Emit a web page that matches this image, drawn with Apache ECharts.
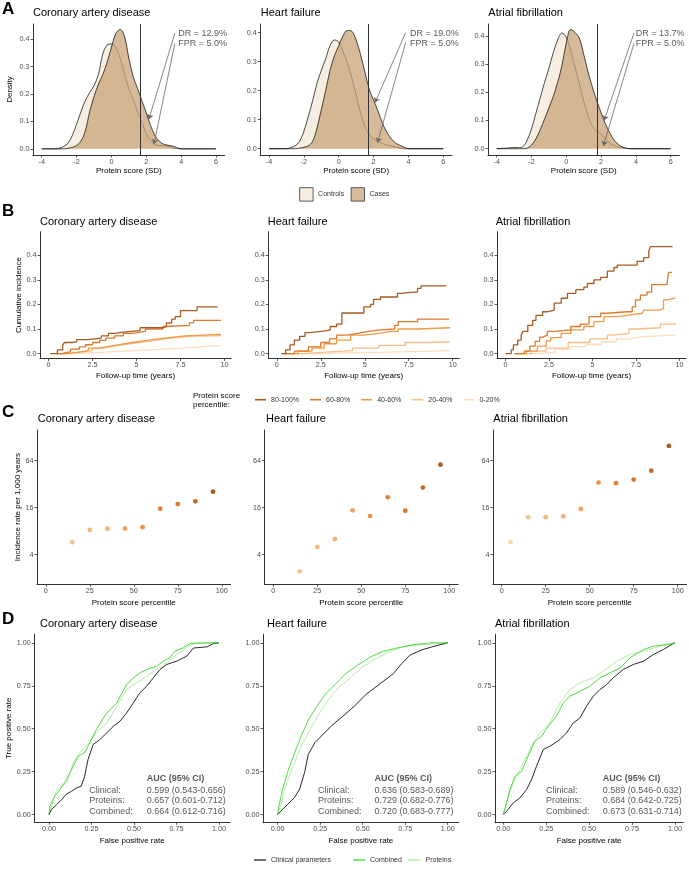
<!DOCTYPE html>
<html><head><meta charset="utf-8">
<script src="https://cdn.jsdelivr.net/npm/echarts@6/dist/echarts.min.js"></script>
<style>html,body{margin:0;padding:0;background:#fff}#c{width:689px;height:870px}</style>
</head><body><div id="c"></div><script>
// ---------------- DATA ----------------
const diseases = ['Coronary artery disease', 'Heart failure', 'Atrial fibrillation'];

// Panel A: density of protein score (SD)
const densityX = [-4, -3.25, -3, -2.75, -2.5, -2.25, -2, -1.75, -1.5, -1.25, -1, -0.75, -0.5, -0.25, 0, 0.25, 0.5, 0.75, 1, 1.25, 1.5, 1.75, 2, 2.25, 2.5, 2.75, 3, 3.25, 3.5, 3.75, 4, 6];
const cadControls = [0, 0, 0.002, 0.008, 0.02, 0.048, 0.09, 0.135, 0.175, 0.205, 0.23, 0.27, 0.345, 0.378, 0.382, 0.37, 0.33, 0.275, 0.22, 0.18, 0.135, 0.095, 0.055, 0.03, 0.016, 0.012, 0.012, 0.01, 0.004, 0.001, 0, 0];
const cadCases = [0, 0, 0, 0, 0.002, 0.005, 0.012, 0.028, 0.065, 0.135, 0.19, 0.235, 0.27, 0.315, 0.37, 0.42, 0.435, 0.41, 0.33, 0.263, 0.22, 0.175, 0.132, 0.085, 0.048, 0.028, 0.017, 0.013, 0.01, 0.005, 0, 0];
const hfControls = [0, 0, 0, 0.004, 0.01, 0.025, 0.06, 0.11, 0.165, 0.225, 0.27, 0.31, 0.355, 0.375, 0.368, 0.335, 0.295, 0.245, 0.185, 0.125, 0.078, 0.05, 0.035, 0.025, 0.018, 0.013, 0.009, 0.006, 0.002, 0, 0, 0];
const hfCases = [0, 0, 0, 0, 0, 0.002, 0.005, 0.01, 0.025, 0.07, 0.135, 0.2, 0.27, 0.32, 0.355, 0.39, 0.408, 0.405, 0.375, 0.325, 0.265, 0.205, 0.168, 0.13, 0.09, 0.058, 0.036, 0.02, 0.012, 0.005, 0, 0];
const afControls = [0, 0.003, 0.004, 0.004, 0.007, 0.03, 0.07, 0.125, 0.18, 0.235, 0.285, 0.34, 0.385, 0.41, 0.395, 0.35, 0.29, 0.23, 0.17, 0.118, 0.08, 0.063, 0.052, 0.035, 0.021, 0.012, 0.006, 0.003, 0.001, 0, 0, 0];
const afCases = [0, 0, 0, 0, 0, 0.002, 0.013, 0.035, 0.067, 0.105, 0.145, 0.185, 0.235, 0.295, 0.375, 0.423, 0.412, 0.392, 0.335, 0.272, 0.218, 0.17, 0.128, 0.088, 0.056, 0.03, 0.015, 0.005, 0.001, 0, 0, 0];
const thresholds = [1.65, 1.68, 1.78];
const drLabels = ['DR = 12.9%', 'DR = 19.0%', 'DR = 13.7%'];
const fprLabels = ['FPR = 5.0%', 'FPR = 5.0%', 'FPR = 5.0%'];
// arrow start / end points in data units [x, y]
const drArrows = [[[3.64, 0.421], [2.15, 0.108]], [[3.84, 0.4], [2.08, 0.159]], [[3.89, 0.41], [2.17, 0.1]]];
const fprArrows = [[[3.64, 0.384], [2.44, 0.017]], [[3.84, 0.366], [2.23, 0.021]], [[3.89, 0.374], [2.13, 0.01]]];

// Panel B: cumulative incidence step curves [years, cumulative incidence]
const groups = ['80-100%', '60-80%', '40-60%', '20-40%', '0-20%'];
const cadCum = [
  [[0.1,0],[0.5,0.015],[0.8,0.035],[0.9,0.045],[1.3,0.048],[1.6,0.057],[2.25,0.063],[3,0.072],[3.4,0.082],[3.75,0.087],[4.25,0.093],[5.2,0.105],[6.5,0.11],[6.7,0.125],[7.0,0.14],[7.2,0.15],[7.5,0.175],[8.44,0.19],[9.6,0.19]],
  [[0.5,0],[0.75,0.008],[1.25,0.018],[1.75,0.027],[2.1,0.036],[2.5,0.045],[2.9,0.054],[3.25,0.063],[3.75,0.072],[4.25,0.082],[4.75,0.09],[5.5,0.1],[6.5,0.11],[6.7,0.115],[8.0,0.125],[8.25,0.135],[9.8,0.135]],
  [[0.4,0],[1,0.005],[1.6,0.012],[2.25,0.022],[2.9,0.03],[3.5,0.037],[4.1,0.045],[4.75,0.052],[5.4,0.058],[6,0.063],[6.6,0.068],[7.25,0.072],[7.75,0.078],[9.8,0.078]],
  [[0.6,0],[1.2,0.006],[1.8,0.012],[2.5,0.022],[3.1,0.03],[3.7,0.038],[4.4,0.045],[5.2,0.052],[5.9,0.06],[6.6,0.066],[7.4,0.07],[8,0.073],[9.8,0.073]],
  [[0.3,0],[1.5,0.004],[2.75,0.008],[3.75,0.012],[4.75,0.015],[5.75,0.019],[6.75,0.022],[7.6,0.026],[8.5,0.03],[9.1,0.032],[9.75,0.032]]
];
const hfCum = [
  [[0.25,0],[0.5,0.015],[0.75,0.035],[1.0,0.055],[1.3,0.07],[1.6,0.085],[1.9,0.093],[2.85,0.096],[3.04,0.11],[3.4,0.12],[3.7,0.165],[4.76,0.165],[4.95,0.19],[5.33,0.2],[5.5,0.22],[5.9,0.23],[6.7,0.23],[6.86,0.245],[7.05,0.25],[7.8,0.25],[8.0,0.265],[8.2,0.275],[9.64,0.275]],
  [[0.4,0],[1,0.01],[1.8,0.027],[2.5,0.045],[3.0,0.06],[3.4,0.075],[4,0.082],[4.6,0.09],[5.2,0.096],[5.9,0.1],[6.7,0.115],[6.9,0.13],[8,0.14],[9.8,0.14]],
  [[0.5,0],[1.2,0.01],[2,0.022],[2.7,0.04],[3.4,0.055],[4.2,0.075],[5,0.082],[5.8,0.09],[6.5,0.09],[6.9,0.1],[8,0.105],[9.85,0.105]],
  [[0.5,0],[1.5,0.006],[2.8,0.012],[4.3,0.022],[5.8,0.033],[7.3,0.045],[8.5,0.048],[9.85,0.048]],
  [[0.8,0],[2.5,0.003],[3.8,0.006],[6.3,0.009],[8.3,0.012],[9.85,0.013]]
];
const afCum = [
  [[0,0],[0.33,0.015],[0.45,0.035],[0.7,0.055],[0.9,0.075],[1.0,0.09],[1.28,0.115],[1.56,0.135],[1.75,0.155],[2.13,0.17],[2.4,0.177],[2.8,0.205],[3.2,0.225],[3.56,0.245],[4.04,0.26],[4.5,0.27],[4.7,0.285],[5.08,0.3],[5.47,0.31],[5.85,0.335],[6.23,0.35],[6.42,0.36],[7.37,0.36],[7.56,0.375],[7.94,0.39],[8.23,0.415],[8.32,0.435],[9.6,0.435]],
  [[0.5,0],[1.08,0.01],[1.4,0.03],[1.7,0.05],[1.96,0.067],[2.13,0.075],[2.4,0.09],[2.8,0.096],[3.75,0.11],[4.3,0.12],[4.8,0.15],[5.47,0.164],[5.85,0.17],[6.99,0.17],[7.28,0.19],[7.47,0.218],[7.75,0.238],[8.13,0.25],[8.4,0.28],[9.27,0.28],[9.37,0.33],[9.56,0.33]],
  [[0.6,0],[1.2,0.01],[1.83,0.03],[2.34,0.052],[2.6,0.065],[3.2,0.082],[3.75,0.096],[4.5,0.11],[5.08,0.13],[5.66,0.15],[6.42,0.157],[7.18,0.164],[7.85,0.164],[7.95,0.177],[8.9,0.183],[9.08,0.218],[9.27,0.225],[9.75,0.225]],
  [[0.8,0],[1.5,0.01],[2.34,0.022],[3.6,0.045],[4.85,0.06],[5.85,0.075],[6.13,0.082],[7.09,0.1],[7.56,0.105],[8.9,0.12],[9.8,0.12]],
  [[1,0],[1.8,0.005],[2.84,0.018],[3.7,0.028],[4.6,0.037],[5.5,0.048],[6.36,0.06],[7.0,0.066],[7.6,0.07],[8.2,0.075],[9.75,0.075]]
];

// Panel C: incidence rate per 1,000 years by protein score percentile
const percentiles = [5, 15, 25, 35, 45, 55, 65, 75, 85, 95];
const cadRate = [null, 5.77, 8.28, 8.6, 8.68, 9.0, 15.5, 17.8, 19.3, 25.6];
const hfRate = [null, 2.45, 5.02, 6.35, 14.8, 12.5, 21.7, 14.6, 28.9, 56.9];
const afRate = [5.81, 12.1, 12.1, 12.4, 15.4, 33.5, 32.9, 36.6, 47.6, 98.7];

// Panel D: ROC curves [false positive rate, true positive rate]
const cadClinical = [[0,0],[0.016,0.03],[0.045,0.058],[0.075,0.087],[0.1,0.117],[0.133,0.136],[0.163,0.155],[0.19,0.165],[0.21,0.223],[0.23,0.32],[0.26,0.408],[0.3,0.437],[0.34,0.476],[0.38,0.515],[0.418,0.544],[0.457,0.592],[0.496,0.65],[0.535,0.709],[0.575,0.748],[0.614,0.796],[0.653,0.845],[0.692,0.874],[0.75,0.893],[0.81,0.922],[0.85,0.97],[0.93,0.977],[0.967,0.996],[1,1]];
const cadCombined = [[0,0],[0.006,0.049],[0.035,0.107],[0.065,0.146],[0.104,0.204],[0.143,0.282],[0.173,0.34],[0.21,0.36],[0.24,0.417],[0.28,0.495],[0.32,0.563],[0.36,0.612],[0.4,0.65],[0.43,0.709],[0.457,0.757],[0.496,0.796],[0.535,0.825],[0.575,0.845],[0.633,0.864],[0.673,0.893],[0.71,0.913],[0.74,0.951],[0.79,0.971],[0.83,0.996],[0.89,1],[1,1]];
const cadProteins = [[0,0],[0.016,0.049],[0.045,0.146],[0.104,0.184],[0.143,0.301],[0.18,0.36],[0.22,0.4],[0.28,0.476],[0.34,0.534],[0.4,0.631],[0.457,0.728],[0.516,0.767],[0.575,0.806],[0.633,0.845],[0.692,0.883],[0.75,0.932],[0.81,0.971],[0.85,0.996],[1,1]];
const hfClinical = [[0,0],[0.03,0.03],[0.06,0.06],[0.1,0.1],[0.13,0.15],[0.16,0.25],[0.18,0.35],[0.22,0.42],[0.27,0.47],[0.32,0.52],[0.38,0.57],[0.45,0.63],[0.52,0.7],[0.6,0.76],[0.68,0.82],[0.73,0.88],[0.78,0.93],[0.85,0.96],[0.92,0.98],[1,1]];
const hfCombined = [[0,0],[0.01,0.06],[0.03,0.15],[0.06,0.25],[0.1,0.36],[0.14,0.46],[0.18,0.55],[0.23,0.63],[0.28,0.7],[0.34,0.76],[0.4,0.82],[0.47,0.87],[0.55,0.92],[0.62,0.95],[0.7,0.97],[0.8,0.99],[0.9,1],[1,1]];
const hfProteins = [[0,0],[0.02,0.06],[0.04,0.14],[0.07,0.23],[0.11,0.33],[0.15,0.42],[0.2,0.51],[0.25,0.6],[0.3,0.67],[0.36,0.74],[0.43,0.8],[0.5,0.86],[0.58,0.91],[0.66,0.95],[0.75,0.98],[0.85,0.99],[1,1]];
const afClinical = [[0,0],[0.02,0.02],[0.058,0.068],[0.097,0.097],[0.136,0.146],[0.165,0.204],[0.194,0.282],[0.233,0.379],[0.272,0.398],[0.33,0.437],[0.369,0.476],[0.408,0.534],[0.447,0.563],[0.485,0.631],[0.524,0.689],[0.563,0.728],[0.602,0.757],[0.64,0.796],[0.699,0.845],[0.757,0.874],[0.816,0.893],[0.874,0.932],[0.932,0.961],[0.99,0.996],[1,1]];
const afCombined = [[0,0],[0.02,0.068],[0.039,0.146],[0.068,0.223],[0.107,0.252],[0.136,0.32],[0.184,0.427],[0.223,0.456],[0.262,0.515],[0.31,0.573],[0.35,0.65],[0.388,0.689],[0.447,0.718],[0.505,0.748],[0.563,0.796],[0.621,0.825],[0.68,0.854],[0.738,0.913],[0.816,0.961],[0.874,0.981],[0.951,0.99],[1,1]];
const afProteins = [[0,0],[0.029,0.107],[0.058,0.184],[0.097,0.262],[0.136,0.34],[0.175,0.417],[0.214,0.476],[0.272,0.534],[0.33,0.65],[0.388,0.728],[0.447,0.767],[0.524,0.796],[0.583,0.835],[0.66,0.893],[0.738,0.932],[0.816,0.951],[0.913,0.981],[1,1]];
const aucLabels = ['Clinical:', 'Proteins:', 'Combined:'];
const cadAuc = ['0.599 (0.543-0.656)', '0.657 (0.601-0.712)', '0.664 (0.612-0.716)'];
const hfAuc = ['0.636 (0.583-0.689)', '0.729 (0.682-0.776)', '0.720 (0.683-0.777)'];
const afAuc = ['0.589 (0.546-0.632)', '0.684 (0.642-0.725)', '0.673 (0.631-0.714)'];

// ---------------- STYLE ----------------
const F = 'Liberation Sans, Arial, Helvetica, sans-serif';
const groupColors = ['#a95c22', '#de7a2d', '#f29b47', '#f7be86', '#fbdcbc'];
const decileColors = ['#f8d6ad', '#f5c390', '#f3b87c', '#f2b175', '#f0a35f', '#ea944a', '#e1853b', '#d67931', '#c26b28', '#a95c20'];
const controlsFill = '#f6efe1';
const casesFill = 'rgba(200,163,119,0.75)';
const rocColors = {'Clinical parameters': '#111111', 'Combined': '#3bd62b', 'Proteins': '#aeea9f'};

const grids = [
  {left: 33, top: 24, width: 191.7, height: 131},
  {left: 260.3, top: 24, width: 191.7, height: 131},
  {left: 488, top: 24, width: 191.4, height: 131},
  {left: 40, top: 231.7, width: 191, height: 126.8},
  {left: 268.2, top: 231.7, width: 191, height: 126.8},
  {left: 497, top: 231.7, width: 189, height: 126.8},
  {left: 37, top: 430, width: 193.6, height: 154.3},
  {left: 264.5, top: 430, width: 193.6, height: 154.3},
  {left: 492.9, top: 430, width: 193.6, height: 154.3},
  {left: 34.3, top: 634.3, width: 195.7, height: 188},
  {left: 263, top: 634.3, width: 195.7, height: 188},
  {left: 495, top: 634.3, width: 188.2, height: 188}
].map(g => Object.assign({outerBoundsMode: 'none', containLabel: false, show: false}, g));

function axis(gi, type, min, max, ticks, fmt, name, gap, extra) {
  const a = {
    type: type, gridIndex: gi, min: min, max: max,
    axisLine: {show: true, onZero: false, lineStyle: {color: '#333', width: 1}},
    axisTick: {show: true, length: 2.5, lineStyle: {color: '#333', width: 0.8}, customValues: ticks},
    axisLabel: {customValues: ticks, formatter: fmt, color: '#4d4d4d', fontSize: 7.2, fontFamily: F, margin: 3.5},
    splitLine: {show: false},
    name: name || '', nameLocation: 'middle', nameGap: gap || 0,
    nameTextStyle: {color: '#000', fontSize: 8, fontFamily: F}
  };
  return Object.assign(a, extra || {});
}
const f1 = v => v.toFixed(1);
const f2 = v => v.toFixed(2);
const fs = v => String(Math.round(v * 10) / 10);

const xAxes = [], yAxes = [], series = [], graphics = [];
const aYRange = [[-0.0225, 0.455], [-0.0217, 0.43], [-0.0223, 0.442]];
const dXRange = [[-0.086, 1.065], [-0.086, 1.065], [-0.048, 1.048]];

// axis index = 4*i + panel (panel 0..3 = A..D), grid index = 3*panel + i
for (let i = 0; i < 3; i++) {
  xAxes.push(axis(i, 'value', -4.5, 6.5, [-4, -2, 0, 2, 4, 6], fs, 'Protein score (SD)', 8.5));
  yAxes.push(axis(i, 'value', aYRange[i][0], aYRange[i][1], [0, 0.1, 0.2, 0.3, 0.4], f1, i === 0 ? 'Density' : '', 19));
  xAxes.push(axis(3 + i, 'value', -0.49, 10.37, [0, 2.5, 5, 7.5, 10], fs, 'Follow-up time (years)', 13));
  yAxes.push(axis(3 + i, 'value', -0.02, 0.4955, [0, 0.1, 0.2, 0.3, 0.4], f1, i === 0 ? 'Cumulative incidence' : '', 17.7));
  xAxes.push(axis(6 + i, 'value', -5, 105, [0, 25, 50, 75, 100], fs, 'Protein score percentile', 14));
  yAxes.push(axis(6 + i, 'log', 1.67, 158, [4, 16, 64], v => String(Math.round(v)), i === 0 ? 'Incidence rate per 1,000 years' : '', 14.7, {logBase: 2}));
  xAxes.push(axis(9 + i, 'value', dXRange[i][0], dXRange[i][1], [0, 0.25, 0.5, 0.75, 1], f2, 'False positive rate', 14));
  yAxes.push(axis(9 + i, 'value', -0.045, 1.05, [0, 0.25, 0.5, 0.75, 1], f2, i === 0 ? 'True positive rate' : '', 17));
}
const idx = (panel, i) => 4 * i + panel;

const densControls = [cadControls, hfControls, afControls];
const densCases = [cadCases, hfCases, afCases];
const zip = (xs, ys) => xs.map((x, k) => [x, ys[k]]);
for (let i = 0; i < 3; i++) {
  const ax = idx(0, i);
  series.push({
    name: 'Controls', type: 'line', xAxisIndex: ax, yAxisIndex: ax, data: zip(densityX, densControls[i]),
    smooth: 0.35, symbol: 'none', lineStyle: {color: '#000', width: 0.7}, itemStyle: {color: controlsFill},
    areaStyle: {color: controlsFill, opacity: 1}, z: 2, silent: true
  });
  const mlData = [
    {xAxis: thresholds[i], symbol: 'none', lineStyle: {color: '#333', width: 1, type: 'solid'}},
    [{coord: drArrows[i][0], symbol: 'none'}, {coord: drArrows[i][1], symbol: 'arrow'}],
    [{coord: fprArrows[i][0], symbol: 'none'}, {coord: fprArrows[i][1], symbol: 'arrow'}]
  ];
  series.push({
    name: 'Cases', type: 'line', xAxisIndex: ax, yAxisIndex: ax, data: zip(densityX, densCases[i]),
    smooth: 0.35, symbol: 'none', lineStyle: {color: '#000', width: 0.7}, itemStyle: {color: '#d6bc9c'},
    areaStyle: {color: casesFill, opacity: 1}, z: 3, silent: true,
    markLine: {silent: true, symbol: ['none', 'none'], symbolSize: 5, label: {show: false},
      lineStyle: {color: '#666', width: 0.8, type: 'solid'}, data: mlData, z: 5, animation: false}
  });
}

const cumData = [cadCum, hfCum, afCum];
for (let i = 0; i < 3; i++) {
  const ax = idx(1, i);
  for (let g = 4; g >= 0; g--) {
    series.push({
      name: groups[g], type: 'line', step: 'end', xAxisIndex: ax, yAxisIndex: ax, data: cumData[i][g],
      symbol: 'none', lineStyle: {color: groupColors[g], width: 1.3}, itemStyle: {color: groupColors[g]}, silent: true
    });
  }
}

const rateData = [cadRate, hfRate, afRate];
for (let i = 0; i < 3; i++) {
  const ax = idx(2, i);
  const pts = [];
  percentiles.forEach((p, k) => { if (rateData[i][k] !== null) pts.push({value: [p, rateData[i][k]], itemStyle: {color: decileColors[k], opacity: 1}}); });
  series.push({type: 'scatter', xAxisIndex: ax, yAxisIndex: ax, data: pts, symbolSize: 4.8, itemStyle: {opacity: 1}, silent: true});
}

const rocData = [
  {'Clinical parameters': cadClinical, 'Combined': cadCombined, 'Proteins': cadProteins},
  {'Clinical parameters': hfClinical, 'Combined': hfCombined, 'Proteins': hfProteins},
  {'Clinical parameters': afClinical, 'Combined': afCombined, 'Proteins': afProteins}
];
for (let i = 0; i < 3; i++) {
  const ax = idx(3, i);
  ['Proteins', 'Clinical parameters', 'Combined'].forEach(n => {
    const s = {
      name: n, type: 'line', xAxisIndex: ax, yAxisIndex: ax, data: rocData[i][n], symbol: 'none',
      lineStyle: {color: rocColors[n], width: 0.9}, itemStyle: {color: rocColors[n]}, silent: true
    };
    if (n === 'Proteins') {
      s.markLine = {silent: true, symbol: ['none', 'none'], label: {show: false}, animation: false,
        lineStyle: {color: '#d0d0d0', width: 0.7, type: [1, 2]},
        data: [[{coord: [dXRange[i][0], dXRange[i][0]]}, {coord: [1.05, 1.05]}]]};
    }
    series.push(s);
  });
}

const xs = xAxes.slice(), ys = yAxes.slice();
for (let i = 0; i < 3; i++) for (let p = 0; p < 4; p++) { xs[4 * i + p].gridIndex = p * 3 + i; ys[4 * i + p].gridIndex = p * 3 + i; }

// ---------------- TEXT ----------------
function txt(x, y, s, o) {
  o = o || {};
  return {type: 'text', x: x, y: y, silent: true, z: 10, style: {text: s, fill: o.fill || '#000', fontSize: o.size || 8,
    fontFamily: F, fontWeight: o.weight || 'normal', align: o.align || 'left', verticalAlign: 'middle'}};
}
graphics.push(txt(2, 9.5, 'A', {size: 17, weight: 'bold'}));
graphics.push(txt(2, 211.7, 'B', {size: 17, weight: 'bold'}));
graphics.push(txt(2, 412.5, 'C', {size: 17, weight: 'bold'}));
graphics.push(txt(2, 619, 'D', {size: 17, weight: 'bold'}));
const titleX = [[33, 260.7, 488.3], [40, 267.7, 495.7], [37.7, 266, 493.3], [40, 267, 495]];
const titleY = [13.3, 221.7, 419.3, 624.3];
for (let p = 0; p < 4; p++) for (let i = 0; i < 3; i++) graphics.push(txt(titleX[p][i], titleY[p], diseases[i], {size: 11}));
const drX = [178.3, 410, 635.7];
for (let i = 0; i < 3; i++) {
  graphics.push(txt(drX[i], 34, drLabels[i], {size: 9, fill: '#595959'}));
  graphics.push(txt(drX[i], 44, fprLabels[i], {size: 9, fill: '#595959'}));
}
graphics.push(txt(193, 395.5, 'Protein score', {size: 8}));
graphics.push(txt(193, 405, 'percentile:', {size: 8}));
const aucLabX = [89.3, 318, 546], aucValX = [146.7, 374.5, 602.7];
const aucVals = [cadAuc, hfAuc, afAuc];
for (let i = 0; i < 3; i++) {
  graphics.push(txt(aucValX[i], 779, 'AUC (95% CI)', {size: 9, weight: 'bold', fill: '#595959'}));
  for (let r = 0; r < 3; r++) {
    graphics.push(txt(aucLabX[i], 790.2 + r * 10.8, aucLabels[r], {size: 9, fill: '#595959'}));
    graphics.push(txt(aucValX[i], 790.2 + r * 10.8, aucVals[i][r], {size: 9, fill: '#595959'}));
  }
}

// ---------------- LEGENDS ----------------
const legTxt = {fontSize: 7, color: '#333', fontFamily: F};
const legends = [
  {data: [{name: 'Controls', icon: 'rect', itemStyle: {color: controlsFill, borderColor: '#333', borderWidth: 0.8}}], left: 299.3, top: 187.3, itemWidth: 13.4, itemHeight: 13.4, textStyle: legTxt, itemGap: 0, padding: 0, selectedMode: false},
  {data: [{name: 'Cases', icon: 'rect', itemStyle: {color: '#d6bc9c', borderColor: '#333', borderWidth: 0.8}}], left: 350.7, top: 187.3, itemWidth: 13.4, itemHeight: 13.4, textStyle: legTxt, itemGap: 0, padding: 0, selectedMode: false},
  {data: groups.map((g, k) => ({name: g, icon: 'rect', itemStyle: {color: groupColors[k]}})), left: 255, top: 396.2, itemWidth: 11, itemHeight: 1.6, itemGap: 11, textStyle: legTxt, padding: 0, selectedMode: false},
  {data: [{name: 'Clinical parameters', icon: 'rect', itemStyle: {color: rocColors['Clinical parameters']}}], left: 254, top: 856.5, itemWidth: 12, itemHeight: 1.2, textStyle: legTxt, padding: 0, selectedMode: false},
  {data: [{name: 'Combined', icon: 'rect', itemStyle: {color: rocColors['Combined']}}], left: 353, top: 856.5, itemWidth: 12, itemHeight: 1.2, textStyle: legTxt, padding: 0, selectedMode: false},
  {data: [{name: 'Proteins', icon: 'rect', itemStyle: {color: rocColors['Proteins']}}], left: 408.5, top: 856.5, itemWidth: 12, itemHeight: 1.2, textStyle: legTxt, padding: 0, selectedMode: false}
];

const chart = echarts.init(document.getElementById('c'), null, {renderer: 'canvas'});
chart.setOption({
  animation: false,
  backgroundColor: '#fff',
  textStyle: {fontFamily: F},
  grid: grids,
  xAxis: xs,
  yAxis: ys,
  legend: legends,
  series: series,
  graphic: {elements: graphics}
});
</script></body></html>
